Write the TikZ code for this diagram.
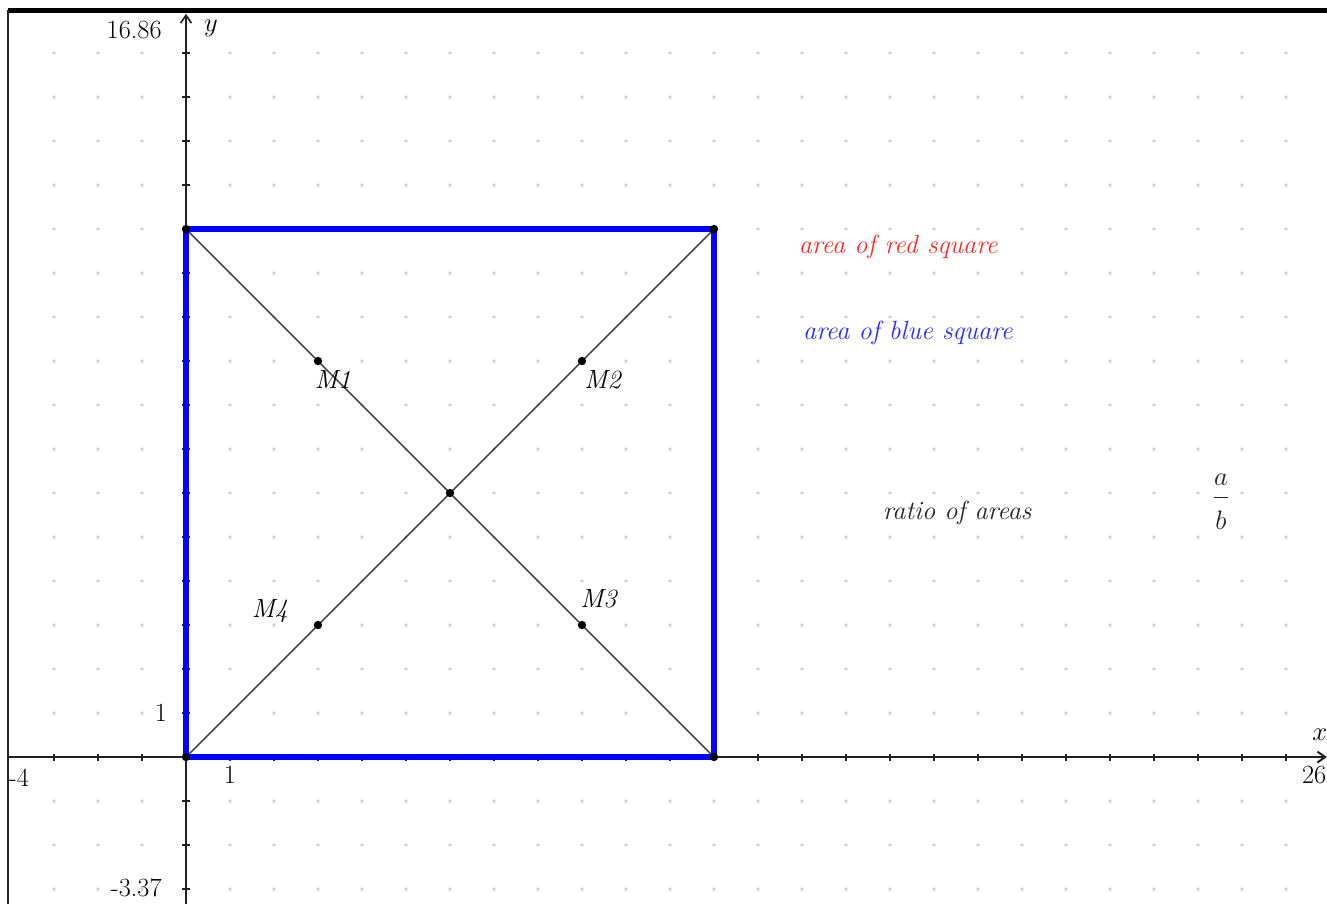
\documentclass[tikz,border=0pt]{standalone}
\usepackage{fontspec}
\usepackage{amsmath}
\usetikzlibrary{arrows.meta}
\definecolor{axisgray}{HTML}{222222}
\definecolor{dotgray}{HTML}{CFCFCF}
\definecolor{diaggray}{HTML}{3A3A3A}
\definecolor{squareblue}{HTML}{0000FF}
\definecolor{textred}{HTML}{FF2A2A}
\definecolor{textblue}{HTML}{2A2AFF}

\begin{document}
\begin{tikzpicture}[>={Straight Barb[length=5pt,width=7pt]}, line width=1pt, font=\fontsize{17}{20}\selectfont]
  \useasboundingbox (-4.227,-3.341) rectangle (25.932,17.205);
  % grid of points
  \foreach \i in {-3,...,25}
    \foreach \j in {-3,...,16}{
      \ifnum\i=0\relax\else\ifnum\j=0\relax\else
        \fill[dotgray] (\i,\j) circle (1.2pt);
      \fi\fi
    }
  % window frame
  \coordinate (TL) at (-4.045,16.97);
  \coordinate (TR) at (25.932,16.97);
  \coordinate (BL) at (-4.045,-3.341);
  \draw[black, line width=3.4pt] (TL) -- (TR);
  \draw[axisgray, line width=0.9pt] (TL) -- (BL);
  % axes
  \coordinate (xmin) at (-4.045,0);
  \coordinate (xmax) at (25.93,0);
  \coordinate (ymin) at (0,-3.341);
  \coordinate (ymax) at (0,16.89);
  \draw[axisgray, line width=1.3pt, ->] (xmin) -- (xmax);
  \draw[axisgray, line width=1.1pt, ->] (ymin) -- (ymax);
  \foreach \i in {-3,...,25}
    \draw[axisgray, line width=0.8pt] (\i,-0.08) -- (\i,0.08);
  \foreach \j in {-3,...,16}
    \draw[axisgray, line width=0.8pt] (-0.08,\j) -- (0.08,\j);
  \node[anchor=east] (ytop) at (-0.42,16.52) {16.86};
  \node (ylab) at (0.57,16.57) {$y$};
  \node (yone) at (-0.57,1.0) {1};
  \node (xone) at (1.0,-0.41) {1};
  \node[anchor=west, inner sep=0pt] (xleft) at (-4.04,-0.48) {-4};
  \node[anchor=east, inner sep=0pt] (xright) at (25.93,-0.41) {26};
  \node (xlab) at (25.77,0.5) {$x$};
  \node[anchor=east] (ybot) at (-0.42,-2.98) {-3.37};
  % the square and its diagonals
  \coordinate (A) at (0,0);
  \coordinate (B) at (12,0);
  \coordinate (C) at (12,12);
  \coordinate (D) at (0,12);
  \coordinate (O) at (6,6);
  \coordinate (M1) at (3,9);
  \coordinate (M2) at (9,9);
  \coordinate (M3) at (9,3);
  \coordinate (M4) at (3,3);
  \draw[diaggray, line width=0.9pt] (A) -- (C);
  \draw[diaggray, line width=0.9pt] (B) -- (D);
  \draw[squareblue, line width=4pt, line join=miter] (A) -- (B) -- (C) -- (D) -- cycle;
  \foreach \p in {A,B,C,D,O,M1,M2,M3,M4}
    \fill[black] (\p) circle (2.7pt);
  \node (lM1) at (3.34,8.59) {\textit{M1}};
  \node (lM2) at (9.48,8.57) {\textit{M2}};
  \node (lM3) at (9.39,3.59) {\textit{M3}};
  \node (lM4) at (1.91,3.32) {\textit{M4}};
  % measurement texts
  \node[textred] (red) at (16.19,11.59) {\textit{area of red square}};
  \node[textblue] (blue) at (16.41,9.64) {\textit{area of blue square}};
  \node[axisgray] (ratio) at (17.53,5.55) {\textit{ratio of areas}};
  \node[axisgray] (frac) at (23.52,5.8) {$\dfrac{a}{\rule{0pt}{2.5ex}b}$};
\end{tikzpicture}
\end{document}
